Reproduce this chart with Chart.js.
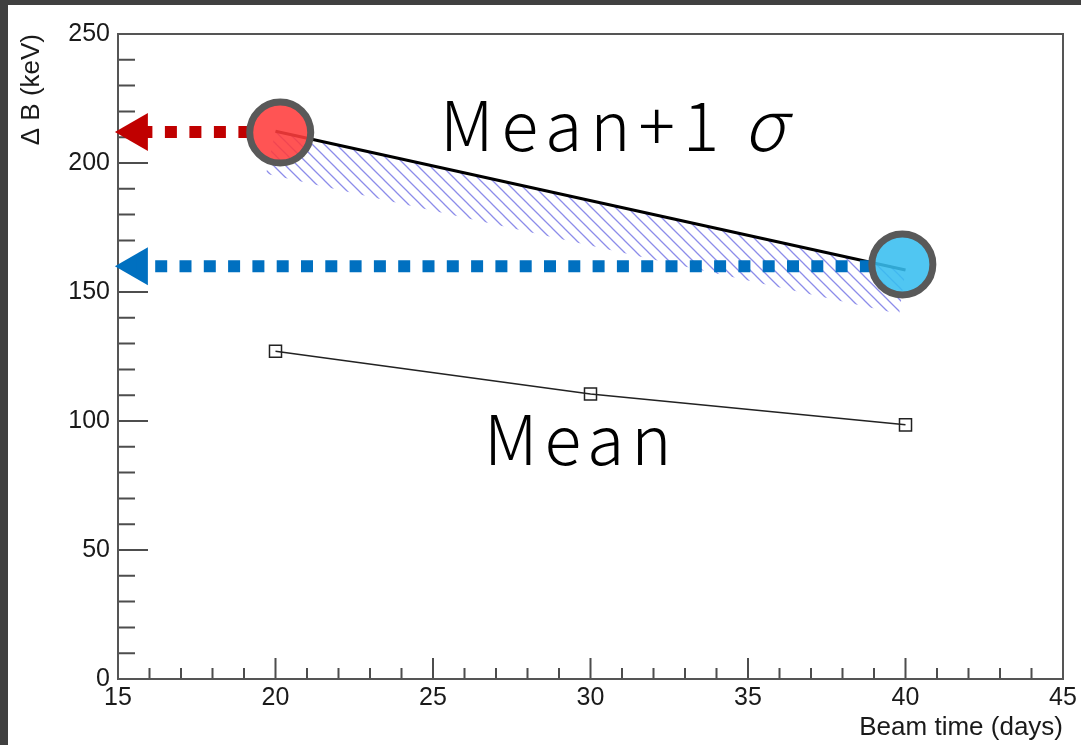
<!DOCTYPE html>
<html>
<head>
<meta charset="utf-8">
<script src="https://cdn.jsdelivr.net/npm/chart.js@4.4.1/dist/chart.umd.min.js"></script>
<style>
  html, body { margin: 0; padding: 0; background: #fff; width: 1081px; height: 745px; overflow: hidden; }
  #wrap { position: absolute; left: 0; top: 0; width: 1081px; height: 745px; }
  .band { position: absolute; background: #404040; z-index: 5; }
  .big { position: absolute; font-family: "Noto Sans CJK JP", "Noto Sans", sans-serif; font-weight: 300; font-size: 68px; line-height: 1; color: #000; white-space: nowrap; z-index: 4; }
  .big i { font-style: italic; font-weight: 300; font-size: 70px; margin-left: -7px; }
</style>
</head>
<body>
<div class="band" style="left:0;top:0;width:1081px;height:5px"></div>
<div class="band" style="left:0;top:0;width:8px;height:745px"></div>
<div id="wrap"><canvas id="chart" width="1081" height="745"></canvas></div>
<div class="big" style="left:440px;top:86px;letter-spacing:8px">Mean+1 <i>σ</i></div>
<div class="big" style="left:484px;top:402px;letter-spacing:7px">Mean</div>
<script>
// axis ranges, read from the frame
const xMin = 15, xMax = 45, xMajor = 5, xMinor = 1;
const yMin = 0, yMax = 250, yMajor = 50, yMinor = 10;

// mean of delta B per beam time
const meanDays = [20, 30, 40];
const meanKeV = [127, 110.5, 98.5];

// mean + 1 sigma line and the lower edge of its hatched band
const sigmaDays = [20, 40];
const sigmaKeV = [212.3, 158.5];
const bandDays = [19.7, 39.8];
const bandKeV = [195.8, 141.5];

// highlighted points and the arrows pointing back to the y axis
const markerDays = [20.15, 39.9];
const markerKeV = [211.8, 160.7];
const arrowKeV = [212, 160];
const arrowFromDays = [15.6, 15.6];
const arrowToDays = [19.2, 38.9];

const toXY = (xs, ys) => xs.map((x, i) => ({ x: x, y: ys[i] }));

// diagonal hatch like ROOT fill style 3004
function hatchPattern(ctx) {
  const s = 12;
  const c = document.createElement('canvas');
  c.width = s; c.height = s;
  const g = c.getContext('2d');
  g.strokeStyle = 'rgba(120,120,230,0.85)';
  g.lineWidth = 1.3;
  g.beginPath();
  g.moveTo(-2, -2); g.lineTo(s + 2, s + 2);
  g.moveTo(-2, s - 2); g.lineTo(2, s + 2);
  g.moveTo(s - 2, -2); g.lineTo(s + 2, 2);
  g.stroke();
  return ctx.createPattern(c, 'repeat');
}

// frame and inward ticks (ROOT style)
const frameTicks = {
  id: 'frameTicks',
  beforeDatasetsDraw(chart) {
    const { ctx, chartArea: a, scales: { x, y } } = chart;
    ctx.save();
    ctx.strokeStyle = '#4d4d4d';
    ctx.lineWidth = 2;
    ctx.beginPath();
    for (let v = yMin; v <= yMax; v += yMinor) {
      const p = y.getPixelForValue(v);
      const len = v % yMajor === 0 ? 30 : 17;
      ctx.moveTo(a.left, p); ctx.lineTo(a.left + len, p);
    }
    for (let v = xMin; v <= xMax; v += xMinor) {
      const p = x.getPixelForValue(v);
      const len = v % xMajor === 0 ? 21 : 11;
      ctx.moveTo(p, a.bottom); ctx.lineTo(p, a.bottom - len);
    }
    ctx.stroke();
    ctx.strokeStyle = '#555';
    ctx.strokeRect(a.left, a.top, a.right - a.left, a.bottom - a.top);
    ctx.restore();
  }
};

// hatched band between the sigma line and its lower edge
const hatchBand = {
  id: 'hatchBand',
  beforeDatasetsDraw(chart) {
    const ctx = chart.ctx;
    const top = chart.getDatasetMeta(2).data;
    const bottom = chart.getDatasetMeta(3).data;
    ctx.save();
    ctx.beginPath();
    top.forEach((p, i) => i ? ctx.lineTo(p.x, p.y) : ctx.moveTo(p.x, p.y));
    for (let i = bottom.length - 1; i >= 0; i--) ctx.lineTo(bottom[i].x, bottom[i].y);
    ctx.closePath();
    ctx.fillStyle = hatchPattern(ctx);
    ctx.fill();
    ctx.restore();
  }
};

const ctx = document.getElementById('chart').getContext('2d');
new Chart(ctx, {
  type: 'line',
  data: {
    datasets: [
      { // 0 highlighted points
        data: toXY(markerDays, markerKeV),
        showLine: false,
        pointStyle: 'circle',
        pointRadius: 30.5,
        pointBorderWidth: 7,
        pointBorderColor: '#595959',
        pointBackgroundColor: ['rgba(255,60,60,0.88)', 'rgba(56,190,240,0.88)'],
        clip: false,
        order: 0
      },
      { // 1 mean
        data: toXY(meanDays, meanKeV),
        borderColor: '#222',
        borderWidth: 1.5,
        pointStyle: 'rect',
        pointRadius: 8.5,
        pointBorderWidth: 1.5,
        pointBorderColor: '#222',
        pointBackgroundColor: 'rgba(0,0,0,0)',
        order: 3
      },
      { // 2 mean + 1 sigma
        data: toXY(sigmaDays, sigmaKeV),
        borderColor: '#000',
        borderWidth: 3,
        pointRadius: 0,
        order: 3
      },
      { // 3 lower edge of the band (drawn by the hatch plugin)
        data: toXY(bandDays, bandKeV),
        showLine: false,
        pointRadius: 0,
        order: 4
      },
      { // 4 red dotted arrow
        data: toXY([arrowFromDays[0], arrowToDays[0]], [arrowKeV[0], arrowKeV[0]]),
        borderColor: '#c00000',
        borderWidth: 12,
        borderDash: [12, 12.5],
        borderDashOffset: 21,
        pointRadius: 0,
        clip: false,
        order: 1
      },
      { // 5 blue dotted arrow
        data: toXY([arrowFromDays[1], arrowToDays[1]], [arrowKeV[1], arrowKeV[1]]),
        borderColor: '#0070c0',
        borderWidth: 12,
        borderDash: [12, 12.3],
        borderDashOffset: 6,
        pointRadius: 0,
        clip: false,
        order: 1
      },
      { // 6 arrow heads
        data: toXY(arrowFromDays, arrowKeV),
        showLine: false,
        pointStyle: 'triangle',
        rotation: -90,
        pointRadius: 22,
        pointBorderWidth: 0,
        pointBackgroundColor: ['#c00000', '#0070c0'],
        clip: false,
        order: 1
      }
    ]
  },
  options: {
    responsive: false,
    animation: false,
    layout: { autoPadding: false, padding: { top: 34, right: 18, left: 0, bottom: 0 } },
    plugins: { legend: { display: false }, tooltip: { enabled: false } },
    scales: {
      x: {
        type: 'linear',
        min: xMin, max: xMax,
        afterFit: s => { s.height = 66; s.paddingLeft = 0; s.paddingRight = 0; },
        grid: { display: false, drawTicks: false },
        border: { display: false },
        ticks: {
          stepSize: xMajor,
          padding: 4,
          color: '#1a1a1a',
          font: { family: 'Liberation Sans', size: 25 }
        },
        title: {
          display: true,
          text: 'Beam time (days)',
          align: 'end',
          color: '#1a1a1a',
          padding: { top: 0, bottom: 2 },
          font: { family: 'Liberation Sans', size: 26 }
        }
      },
      y: {
        type: 'linear',
        min: yMin, max: yMax,
        afterFit: s => { s.width = 118; s.paddingTop = 0; s.paddingBottom = 0; },
        grid: { display: false, drawTicks: false },
        border: { display: false },
        ticks: {
          stepSize: yMajor,
          padding: 8,
          color: '#1a1a1a',
          font: { family: 'Liberation Sans', size: 25 }
        },
        title: {
          display: true,
          text: 'Δ B (keV)',
          align: 'end',
          color: '#1a1a1a',
          padding: { top: 16, bottom: 0 },
          font: { family: 'Liberation Sans', size: 26 }
        }
      }
    }
  },
  plugins: [frameTicks, hatchBand]
});
</script>
</body>
</html>
